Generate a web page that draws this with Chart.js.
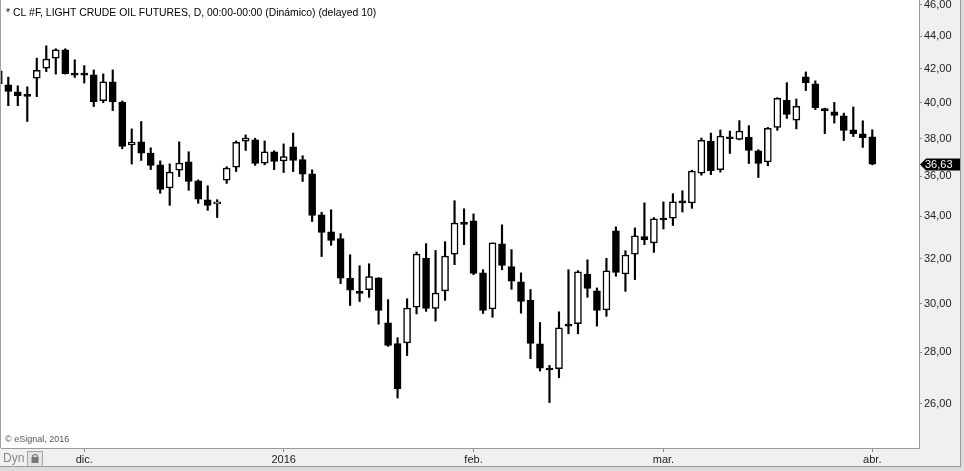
<!DOCTYPE html>
<html>
<head>
<meta charset="utf-8">
<script src="https://cdn.jsdelivr.net/npm/chart.js@4.4.0/dist/chart.umd.min.js"></script>
<style>
  html, body { margin: 0; padding: 0; background: #f0f0f0; }
  canvas { display: block; }
</style>
</head>
<body>
<canvas id="myChart" width="964" height="471"></canvas>
<script>
// daily bars, CL #F, late Nov 2015 .. 1 Apr 2016 (first bar is cut by the left edge)
const openPrices = [
  41.10, 41.04, 40.63, 40.42, 41.43, 42.02, 42.63, 43.14, 41.67, 41.68,
  41.62, 40.12, 41.21, 40.04, 37.65, 37.82, 37.22, 36.60, 35.41, 36.32,
  36.75, 35.77, 34.81, 34.61, 35.81, 36.48, 37.86, 37.93, 36.69, 37.28,
  36.80, 37.56, 36.87, 36.13, 34.07, 33.26, 32.93, 31.11, 30.53, 30.61,
  31.14, 29.20, 28.34, 28.37, 29.86, 32.02, 29.80, 30.56, 32.21, 33.67,
  33.78, 31.36, 29.78, 32.69, 31.64, 30.96, 30.15, 28.33, 27.35, 27.34,
  29.12, 29.16, 31.31, 30.56, 29.74, 33.30, 31.31, 32.21, 33.03, 32.73,
  33.88, 33.91, 34.72, 34.66, 36.16, 37.86, 36.35, 38.07, 37.96, 38.07,
  37.34, 36.75, 38.61, 40.14, 39.02, 41.51, 41.10, 39.65, 39.48, 39.26,
  38.48, 38.26, 38.09
];
const highPrices = [
  42.00, 41.49, 40.98, 40.92, 42.63, 43.39, 43.21, 43.21, 42.53, 42.18,
  41.92, 41.68, 41.92, 40.10, 38.53, 38.94, 37.50, 36.81, 36.65, 37.82,
  37.29, 35.82, 35.52, 34.82, 36.50, 37.87, 38.20, 38.02, 37.87, 37.34,
  37.71, 38.30, 37.08, 36.34, 34.20, 34.32, 33.17, 32.18, 31.68, 31.77,
  31.14, 30.18, 28.58, 30.22, 32.31, 32.70, 32.38, 32.79, 34.77, 34.37,
  34.12, 31.50, 32.73, 33.59, 32.42, 31.36, 30.62, 29.21, 27.47, 29.66,
  31.50, 31.46, 31.95, 30.69, 32.02, 33.49, 32.37, 33.44, 34.66, 33.94,
  34.71, 35.12, 35.27, 36.32, 38.03, 38.30, 38.47, 38.41, 38.99, 38.71,
  37.40, 38.61, 40.29, 41.16, 40.21, 41.80, 41.27, 39.69, 40.02, 39.41,
  39.76, 38.98, 38.48
];
const lowPrices = [
  40.90, 39.83, 39.83, 38.94, 40.35, 41.82, 41.67, 41.67, 41.47, 41.14,
  39.78, 40.00, 39.55, 37.45, 36.64, 36.83, 36.35, 35.14, 34.54, 35.99,
  35.29, 34.64, 34.29, 33.94, 35.64, 36.25, 37.36, 36.57, 36.60, 36.35,
  36.20, 36.25, 35.74, 33.75, 32.10, 32.62, 30.88, 29.93, 30.10, 30.28,
  29.14, 28.23, 26.22, 27.86, 29.57, 29.68, 29.27, 30.15, 31.73, 32.65,
  31.28, 29.59, 29.43, 31.50, 30.63, 29.60, 27.74, 27.25, 26.05, 26.99,
  28.74, 28.74, 30.28, 29.06, 29.47, 31.21, 30.54, 31.06, 32.65, 32.29,
  33.39, 33.56, 34.21, 34.39, 36.06, 36.09, 36.22, 37.20, 37.93, 36.67,
  35.94, 36.55, 38.45, 39.11, 38.53, 40.70, 39.61, 38.27, 38.85, 37.89,
  38.11, 37.52, 36.60
];
const closePrices = [
  41.86, 40.65, 40.41, 40.36, 41.90, 42.57, 43.14, 41.70, 41.61, 41.61,
  40.06, 41.21, 40.06, 37.57, 37.80, 37.22, 36.57, 35.34, 36.22, 36.69,
  35.74, 34.84, 34.54, 34.71, 36.43, 37.80, 38.02, 36.67, 37.28, 36.78,
  37.03, 36.83, 36.11, 34.04, 33.23, 32.85, 31.12, 30.59, 30.45, 31.19,
  29.72, 28.27, 26.57, 29.82, 32.21, 29.80, 30.47, 32.12, 33.67, 33.61,
  31.33, 29.72, 32.73, 31.69, 30.99, 30.10, 28.35, 27.36, 27.29, 28.99,
  29.06, 31.40, 30.67, 29.72, 31.45, 31.38, 32.17, 33.06, 32.87, 33.88,
  33.82, 34.71, 34.66, 36.27, 37.91, 36.30, 38.13, 37.99, 38.41, 37.36,
  36.67, 38.56, 40.25, 39.33, 39.80, 41.17, 39.72, 39.55, 39.28, 38.45,
  38.27, 38.05, 36.63
];
// month labels and the bar each one sits on
const monthLabels = ['dic.', '2016', 'feb.', 'mar.', 'abr.'];
const monthBars = [9, 30, 50, 70, 92];
const priceTicks = [26, 28, 30, 32, 34, 36, 38, 40, 42, 44, 46];

const titleText = '* CL #F, LIGHT CRUDE OIL FUTURES, D, 00:00-00:00 (Dinámico) (delayed 10)';
const FONT = 'Arial, "Liberation Sans", sans-serif';

const isUp = openPrices.map((o, i) => closePrices[i] > o);
const fmt = v => v.toFixed(2).replace('.', ',');

const framePlugin = {
  id: 'frame',
  beforeDraw(chart) {
    const { ctx, chartArea: a, width, height } = chart;
    ctx.save();
    ctx.fillStyle = '#f0f0f0';
    ctx.fillRect(0, 0, width, height);
    ctx.fillStyle = '#ffffff';
    ctx.fillRect(a.left, a.top, a.right - a.left, a.bottom - a.top);
    ctx.restore();
  },
  afterDraw(chart) {
    const { ctx, chartArea: a, width, height } = chart;
    const yScale = chart.scales.y;
    ctx.save();

    // left edge of the pane
    ctx.fillStyle = '#a0a0a0';
    ctx.fillRect(0, 0, 1, a.bottom);

    // title
    ctx.fillStyle = '#000';
    ctx.font = '10.4px ' + FONT;
    ctx.textBaseline = 'middle';
    ctx.textAlign = 'left';
    ctx.fillText(titleText, 6, 13);

    // copyright
    ctx.fillStyle = '#555';
    ctx.font = '9px ' + FONT;
    ctx.fillText('\u00a9 eSignal, 2016', 5, 440);

    // Dyn + lock button
    ctx.fillStyle = '#888';
    ctx.font = '12px ' + FONT;
    ctx.fillText('Dyn', 3, 459);
    ctx.fillStyle = '#e4e4e4';
    ctx.strokeStyle = '#a8a8a8';
    ctx.fillRect(27.5, 451.5, 15, 15);
    ctx.strokeRect(27.5, 451.5, 15, 15);
    ctx.strokeStyle = '#777';
    ctx.lineWidth = 1.2;
    ctx.beginPath();
    ctx.arc(35, 457, 2.5, Math.PI, 0);
    ctx.stroke();
    ctx.fillStyle = '#777';
    ctx.fillRect(31.5, 457, 7, 6);

    // last price marker
    const last = closePrices[closePrices.length - 1];
    const y = Math.round(yScale.getPixelForValue(last)) + 0.5;
    ctx.fillStyle = '#000';
    ctx.beginPath();
    ctx.moveTo(a.right + 1, y);
    ctx.lineTo(a.right + 7, y - 6);
    ctx.lineTo(960, y - 6);
    ctx.lineTo(960, y + 6);
    ctx.lineTo(a.right + 7, y + 6);
    ctx.closePath();
    ctx.fill();
    ctx.fillStyle = '#fff';
    ctx.font = '11px ' + FONT;
    ctx.fillText(fmt(last), 925, y);

    // window frame
    ctx.fillStyle = '#dcdcdc';
    ctx.fillRect(961, 0, width - 961, height);
    ctx.fillRect(0, 467, width, height - 467);
    ctx.fillStyle = '#9a9a9a';
    ctx.fillRect(960, 0, 1, 467);
    ctx.fillRect(0, 466, 961, 1);
    ctx.restore();
  }
};

const bodies = {
  data: openPrices.map((o, i) => ({ x: i, y: [o, closePrices[i]] })),
  backgroundColor: isUp.map(u => u ? '#ffffff' : '#000000'),
  borderColor: '#000000',
  borderWidth: 1.5,
  borderSkipped: false,
  barThickness: 7,
  minBarLength: 2,
  grouped: false
};
const wicks = {
  data: lowPrices.map((l, i) => ({ x: i, y: [l, highPrices[i]] })),
  backgroundColor: '#000000',
  borderWidth: 0,
  barThickness: 1.5,
  grouped: false
};

const config = {
  type: 'bar',
  data: { datasets: [bodies, wicks] },
  plugins: [framePlugin],
  options: {
    responsive: false,
    animation: false,
    devicePixelRatio: 1,
    layout: { padding: { left: 1, top: 0, right: 0, bottom: 0 } },
    plugins: { legend: { display: false }, tooltip: { enabled: false } },
    scales: {
      x: {
        type: 'linear',
        min: 0.231,
        max: 96.92,
        offset: false,
        grid: { drawOnChartArea: false, offset: false, color: '#8a8a8a', tickLength: 4 },
        border: { display: true, color: '#9a9a9a' },
        ticks: {
          autoSkip: false,
          maxRotation: 0,
          padding: 1,
          color: '#222',
          font: { family: FONT, size: 11 },
          callback: v => monthLabels[monthBars.indexOf(v)]
        },
        afterBuildTicks: axis => { axis.ticks = monthBars.map(v => ({ value: v })); },
        afterFit: axis => { axis.height = 23; axis.paddingLeft = 0; axis.paddingRight = 0; }
      },
      y: {
        type: 'logarithmic',
        position: 'right',
        min: 24.41,
        max: 46.33,
        grid: { drawOnChartArea: false, offset: false, color: '#8a8a8a', tickLength: 3 },
        border: { display: true, color: '#9a9a9a' },
        ticks: {
          autoSkip: false,
          padding: 2,
          color: '#222',
          font: { family: FONT, size: 11 },
          callback: v => fmt(v)
        },
        afterBuildTicks: axis => { axis.ticks = priceTicks.map(v => ({ value: v })); },
        afterFit: axis => { axis.width = 45; axis.paddingTop = 0; axis.paddingBottom = 0; }
      }
    }
  }
};

const myChart = new Chart(document.getElementById('myChart'), config);
</script>
</body>
</html>
